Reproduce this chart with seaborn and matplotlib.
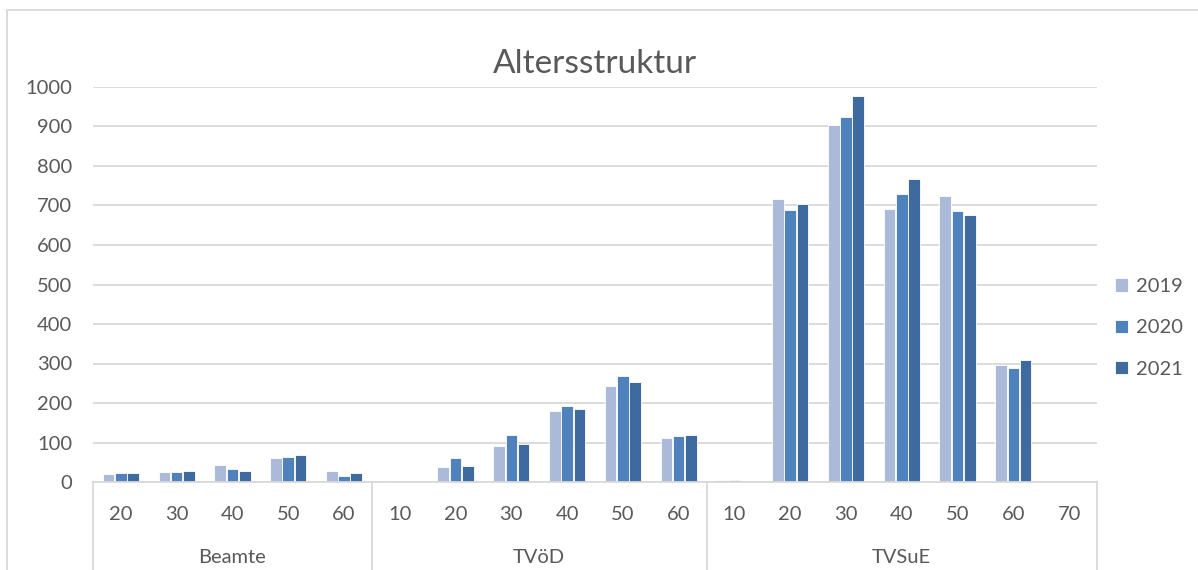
import pandas as pd
import numpy as np
import matplotlib.pyplot as plt
import matplotlib.transforms as mtransforms
from matplotlib.patches import Rectangle
import seaborn as sns

# Daten
gruppen = ['Beamte'] * 5 + ['TVöD'] * 6 + ['TVSuE'] * 7
alter = [20, 30, 40, 50, 60,
         10, 20, 30, 40, 50, 60,
         10, 20, 30, 40, 50, 60, 70]
werte_2019 = [20, 25, 43, 60, 27,
              2, 37, 91, 181, 244, 111,
              5, 716, 904, 691, 724, 296, 1]
werte_2020 = [23, 25, 32, 64, 15,
              0, 60, 120, 192, 268, 116,
              5, 689, 924, 728, 686, 289, 1]
werte_2021 = [22, 27, 27, 68, 22,
              0, 40, 95, 184, 252, 119,
              0, 704, 977, 767, 675, 308, 1]
jahre = ['2019', '2020', '2021']
farben = ['#abbad8', '#4f81bd', '#3e6a9f']

sns.set_theme(style='white')
plt.rcParams['font.family'] = ['Lato', 'DejaVu Sans']
textfarbe = '#595959'
gridfarbe = '#d9d9d9'

rows = []
for i, (g, a) in enumerate(zip(gruppen, alter)):
    for jahr, werte in zip(jahre, [werte_2019, werte_2020, werte_2021]):
        rows.append({'kat': f'{g}|{a}', 'jahr': jahr, 'wert': werte[i]})
df = pd.DataFrame(rows)
kat_order = [f'{g}|{a}' for g, a in zip(gruppen, alter)]

fig = plt.figure(figsize=(11.98, 5.70), dpi=100)
ax = fig.add_axes([93 / 1198, 88 / 570, 1004 / 1198, 395 / 570])

sns.barplot(data=df, x='kat', y='wert', hue='jahr', order=kat_order,
            hue_order=jahre, palette=farben, saturation=1, width=0.66, gap=0.05,
            edgecolor='white', linewidth=0.6, ax=ax)

ax.set_ylim(0, 1000)
ax.set_xlim(-0.5, len(kat_order) - 0.5)
ax.set_yticks(range(0, 1001, 100))
ax.yaxis.grid(True, color=gridfarbe, linewidth=1.3)
ax.set_axisbelow(True)
for s in ['top', 'right', 'left']:
    ax.spines[s].set_visible(False)
ax.spines['bottom'].set_color(gridfarbe)
ax.spines['bottom'].set_linewidth(1.3)

ax.set_xticks(range(len(kat_order)))
ax.set_xticklabels([str(a) for a in alter])
ax.tick_params(axis='x', length=0, pad=17, labelsize=14.5, labelcolor=textfarbe)
ax.tick_params(axis='y', length=0, pad=15, labelsize=14.5, labelcolor=textfarbe)
ax.set_xlabel('')
ax.set_ylabel('')

# Gruppen-Achse
trans = mtransforms.blended_transform_factory(ax.transData, ax.transAxes)
grenzen = [-0.5]
start = 0
for g in ['Beamte', 'TVöD', 'TVSuE']:
    n = gruppen.count(g)
    mitte = start + (n - 1) / 2
    ax.text(mitte, -0.19, g, transform=trans, ha='center', va='center',
            fontsize=14.5, color=textfarbe)
    start += n
    grenzen.append(start - 0.5)
for x in grenzen:
    ax.plot([x, x], [0, -0.3], transform=trans, color=gridfarbe,
            linewidth=1.3, clip_on=False)

ax.set_title('Altersstruktur', fontsize=24, color=textfarbe, pad=10)

leg = ax.legend(loc='center left', bbox_to_anchor=(1.008, 0.39), frameon=False,
                fontsize=14.5, handlelength=0.65, handleheight=0.65,
                handletextpad=0.4, labelspacing=1.2, borderpad=0)
for t in leg.get_texts():
    t.set_color(textfarbe)

# Rahmen
fig.patches.append(Rectangle((7 / 1198, -0.05), 1.1, (560 / 570) + 0.05,
                             transform=fig.transFigure, fill=False,
                             edgecolor=gridfarbe, linewidth=1.3))

plt.savefig('out.png', dpi=100)
plt.close()
